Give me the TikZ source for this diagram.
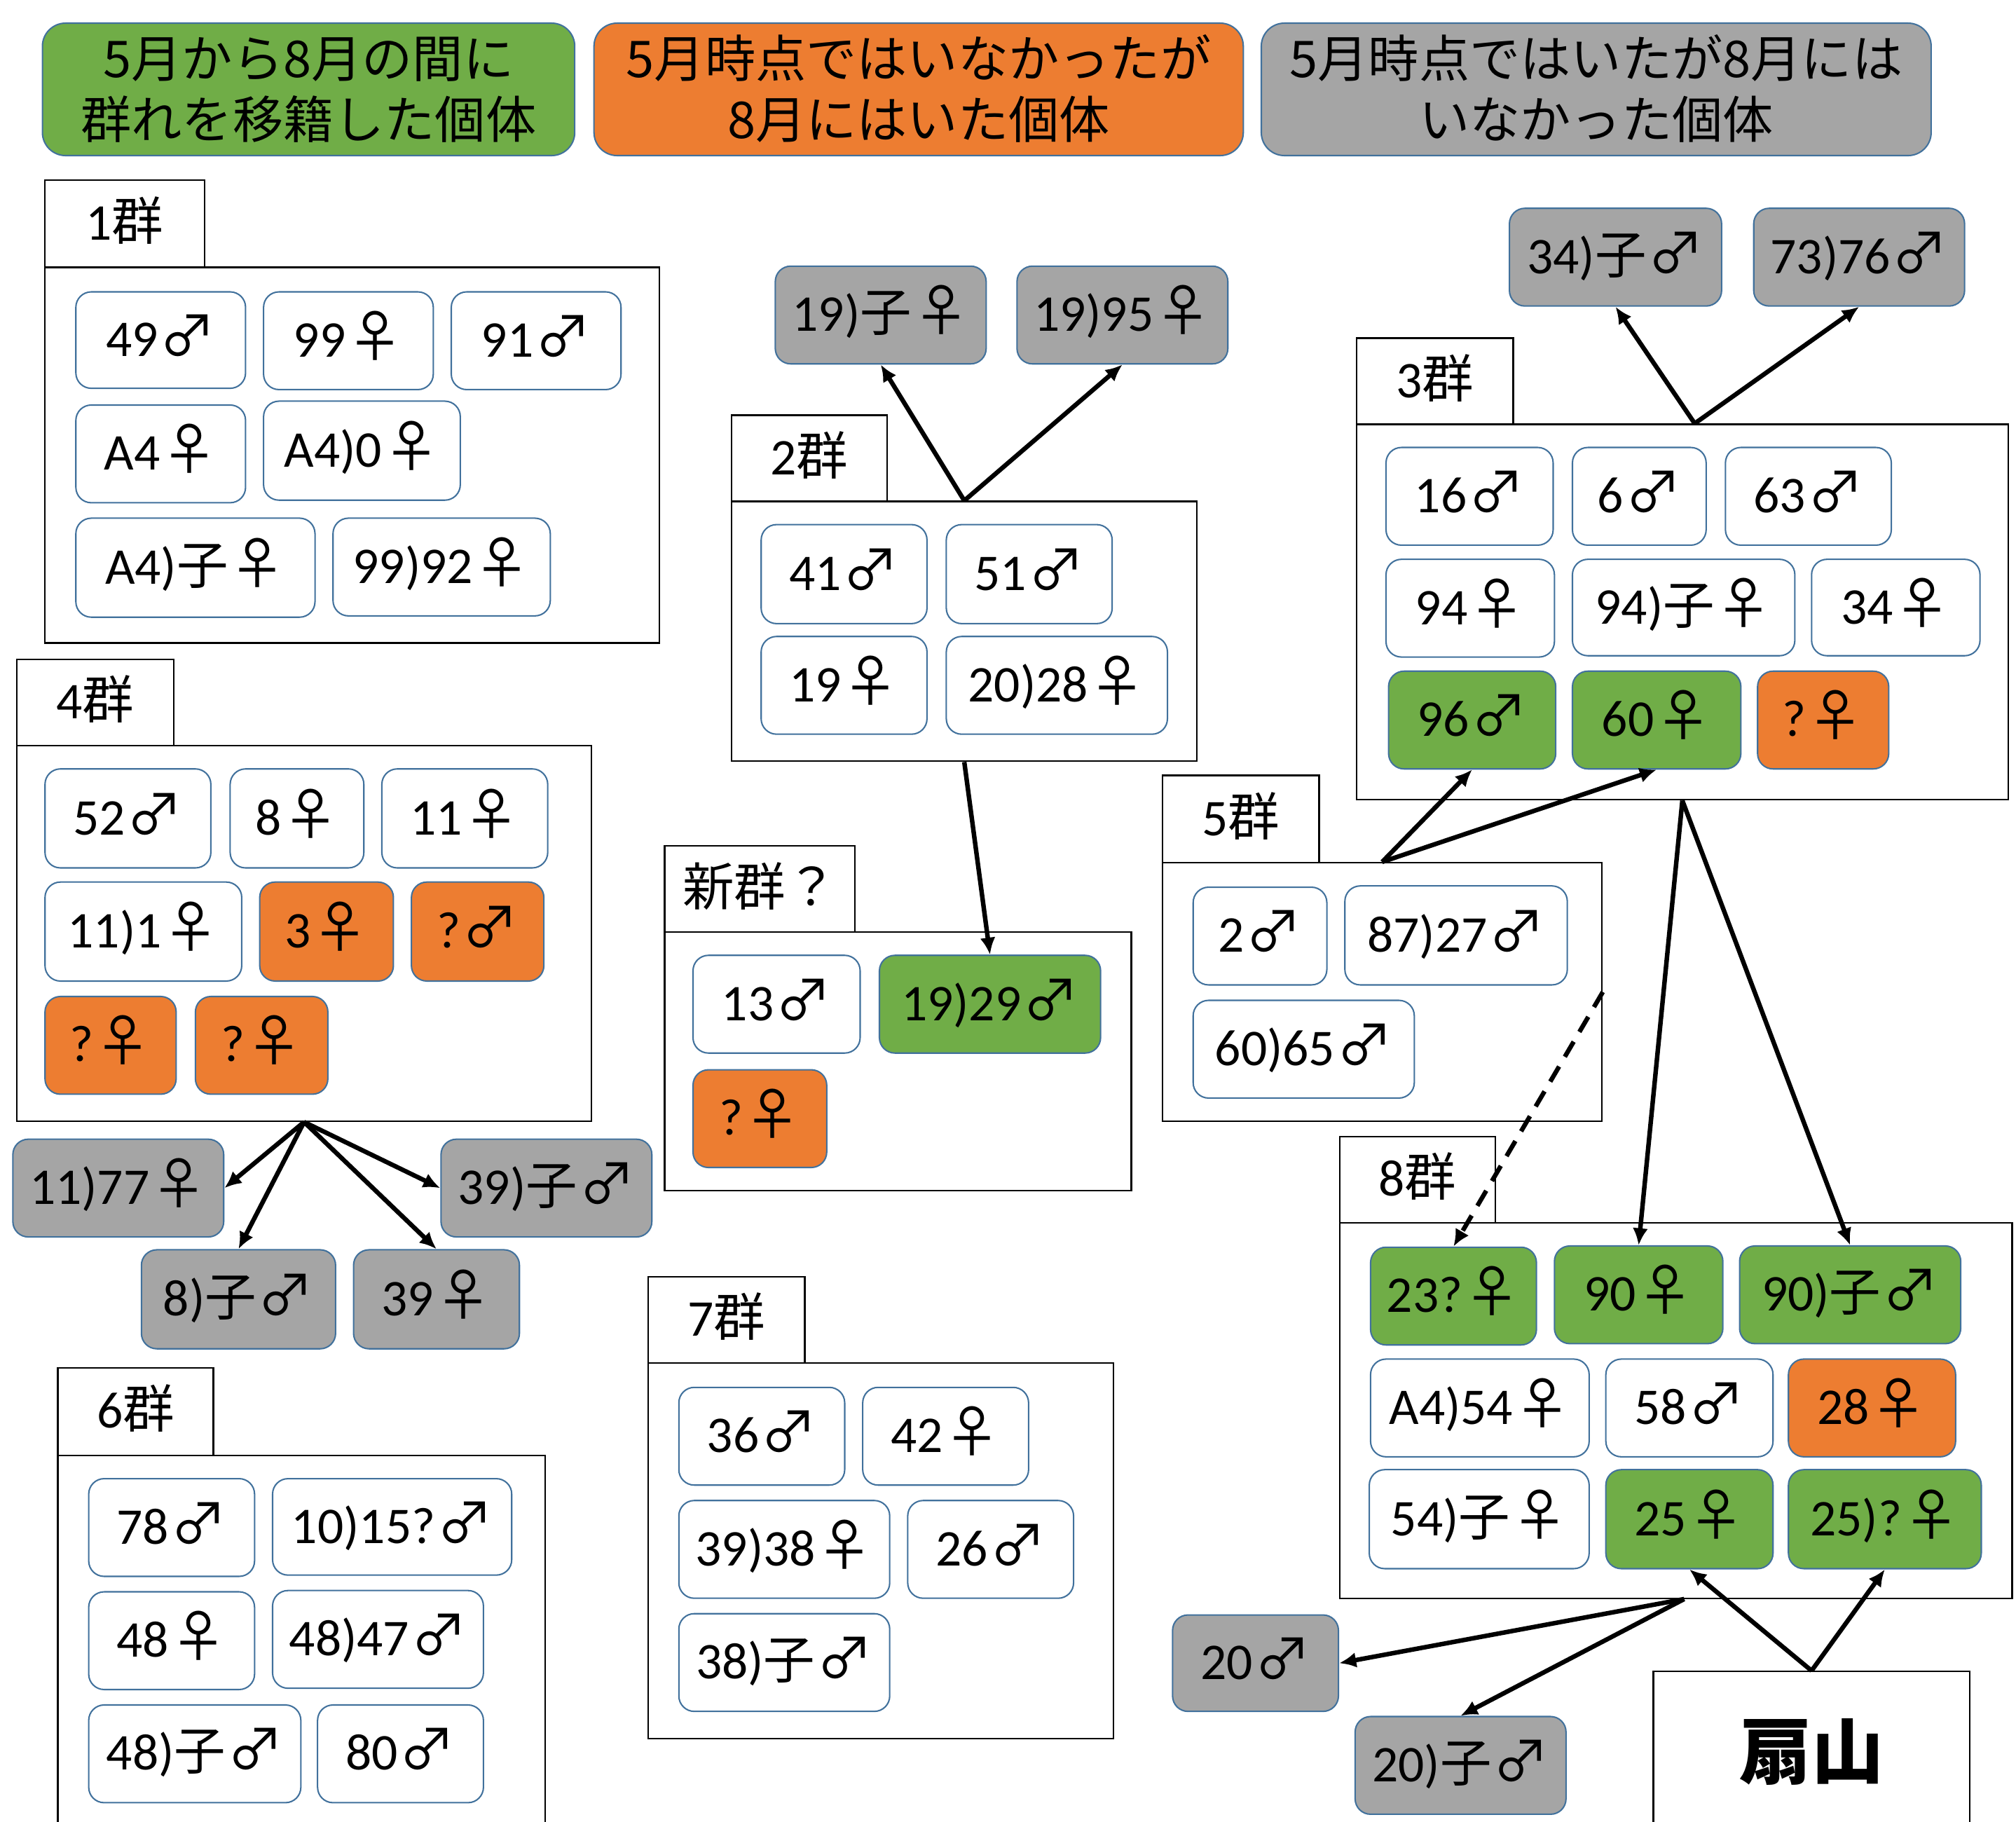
\documentclass[tikz,border=0pt]{standalone}
\usepackage{fontspec}
\setmainfont{Carlito}
\newfontfamily\jp{Noto Sans CJK JP}
\usetikzlibrary{arrows.meta}
\definecolor{cgreen}{HTML}{70AD47}
\definecolor{corange}{HTML}{ED7D31}
\definecolor{cgray}{HTML}{A5A5A5}
\definecolor{bblue}{HTML}{41719C}
\newcommand\Ms{{\kern0.8pt\jp\fontsize{31}{34}\selectfont ♂}}
\newcommand\Fs{{\kern0.8pt\jp\fontsize{31}{34}\selectfont ♀}}
\newcommand\Ko{{\jp 子}}
\newcommand\Gn{{\jp 群}}
\newcommand\ftx{\fontsize{28.5}{34}\selectfont}
\tikzset{
  ind/.style={draw=bblue, line width=0.8pt, rounded corners=3mm, inner sep=0pt, font=\ftx, text height=18pt, text depth=0pt},
  grp/.style={draw=black, line width=0.9pt, inner sep=0pt, font=\ftx, fill=white, text height=18pt, text depth=0pt},
  leg/.style={draw=bblue, line width=0.8pt, rounded corners=4.5mm, inner sep=0pt, font=\jp\fontsize{28}{34}\selectfont, align=center, text height=54.6pt, text depth=0pt},
  arr/.style={-{Latex[length=3.3mm,width=3mm]}, line width=2.5pt},
  box/.style n args={4}{minimum width={(#3-#1)*0.25mm}, minimum height={(#4-#2)*0.25mm}, at={({(#1+#3)/2},{(#2+#4)/2})}},
}
\newcommand\ib[7]{\node[ind, fill=#6, box={#2}{#3}{#4}{#5}] (#1) {#7};}
\newcommand\gb[6]{\node[grp, box={#2}{#3}{#4}{#5}] (#1) {#6};}
\begin{document}
\begin{tikzpicture}[x=0.25mm,y=-0.25mm]
\useasboundingbox (0,0) rectangle (1568,1417);
\clip (0,0) rectangle (1568,1417);
\fill[white] (0,0) rectangle (1568,1417);
% legend
\node[leg, fill=cgreen, box={33}{18}{447}{121}] (leg1) {5月から8月の間に\\群れを移籍した個体};
\node[leg, fill=corange, box={462}{18}{967}{121}] (leg2) {5月時点ではいなかったが\\8月にはいた個体};
\node[leg, fill=cgray, box={981}{18}{1502}{121}] (leg3) {5月時点ではいたが8月には\\いなかった個体};
% group frames
\gb{b1}{35}{208}{513}{500}{}
\gb{t1}{35}{140}{159}{208}{1\Gn}
\gb{b2}{569}{390}{931}{592}{}
\gb{t2}{569}{323}{690}{390}{2\Gn}
\gb{bN}{517}{725}{880}{926}{}
\gb{tN}{517}{658}{665}{725}{\jp 新群？}
\gb{b3}{1055}{330}{1562}{622}{}
\gb{t3}{1055}{263}{1177}{330}{3\Gn}
\gb{b5}{904}{671}{1246}{872}{}
\gb{t5}{904}{603}{1026}{671}{5\Gn}
\gb{b8}{1042}{951}{1565}{1243}{}
\gb{t8}{1042}{884}{1163}{951}{8\Gn}
\gb{b4}{13}{580}{460}{872}{}
\gb{t4}{13}{513}{135}{580}{4\Gn}
\gb{b6}{45}{1132}{424}{1440}{}
\gb{t6}{45}{1064}{166}{1132}{6\Gn}
\gb{b7}{504}{1060}{866}{1352}{}
\gb{t7}{504}{993}{626}{1060}{7\Gn}
\node[grp, box={1286}{1300}{1532}{1424}, font={\jp\bfseries\fontsize{40}{48}\selectfont}, text height=30pt, text depth=0pt] (ougi) {扇山};
% group 1
\ib{g1a}{59}{227}{191}{302}{white}{49\Ms}
\ib{g1b}{205}{227}{337}{303}{white}{99\Fs}
\ib{g1c}{351}{227}{483}{303}{white}{91\Ms}
\ib{g1d}{59}{315}{191}{391}{white}{A4\Fs}
\ib{g1e}{205}{312}{358}{389}{white}{A4)0\Fs}
\ib{g1f}{59}{403}{245}{480}{white}{A4)\Ko\Fs}
\ib{g1g}{259}{403}{428}{479}{white}{99)92\Fs}
% group 2
\ib{g2a}{592}{408}{721}{485}{white}{41\Ms}
\ib{g2b}{736}{408}{865}{485}{white}{51\Ms}
\ib{g2c}{592}{495}{721}{571}{white}{19\Fs}
\ib{g2d}{736}{495}{908}{571}{white}{20)28\Fs}
\ib{o19ko}{603}{207}{767}{283}{cgray}{19)\Ko\Fs}
\ib{o1995}{791}{207}{955}{283}{cgray}{19)95\Fs}
% new group
\ib{gNa}{539}{743}{669}{819}{white}{13\Ms}
\ib{gNb}{684}{743}{856}{819}{cgreen}{19)29\Ms}
\ib{gNc}{539}{832}{643}{908}{corange}{?\Fs}
% group 3
\ib{g3a}{1078}{348}{1208}{424}{white}{16\Ms}
\ib{g3b}{1223}{348}{1327}{424}{white}{6\Ms}
\ib{g3c}{1342}{348}{1471}{424}{white}{63\Ms}
\ib{g3d}{1078}{435}{1209}{511}{white}{94\Fs}
\ib{g3e}{1223}{435}{1396}{510}{white}{94)\Ko\Fs}
\ib{g3f}{1409}{435}{1540}{510}{white}{34\Fs}
\ib{g3g}{1080}{522}{1210}{598}{cgreen}{96\Ms}
\ib{g3h}{1223}{522}{1354}{598}{cgreen}{60\Fs}
\ib{g3i}{1367}{522}{1469}{598}{corange}{?\Fs}
\ib{o34ko}{1174}{162}{1339}{238}{cgray}{34)\Ko\Ms}
\ib{o7376}{1364}{162}{1528}{238}{cgray}{73)76\Ms}
% group 5
\ib{g5a}{928}{690}{1032}{766}{white}{2\Ms}
\ib{g5b}{1046}{689}{1219}{766}{white}{87)27\Ms}
\ib{g5c}{928}{778}{1100}{854}{white}{60)65\Ms}
% group 8
\ib{g8a}{1066}{970}{1195}{1046}{cgreen}{23?\Fs}
\ib{g8b}{1209}{969}{1340}{1045}{cgreen}{90\Fs}
\ib{g8c}{1353}{969}{1525}{1045}{cgreen}{90)\Ko\Ms}
\ib{g8d}{1066}{1057}{1236}{1133}{white}{A4)54\Fs}
\ib{g8e}{1249}{1057}{1379}{1133}{white}{58\Ms}
\ib{g8f}{1391}{1057}{1521}{1133}{corange}{28\Fs}
\ib{g8g}{1065}{1143}{1236}{1220}{white}{54)\Ko\Fs}
\ib{g8h}{1249}{1143}{1379}{1220}{cgreen}{25\Fs}
\ib{g8i}{1391}{1143}{1541}{1220}{cgreen}{25)?\Fs}
\ib{o20}{912}{1256}{1041}{1331}{cgray}{20\Ms}
\ib{o20ko}{1054}{1335}{1218}{1411}{cgray}{20)\Ko\Ms}
% group 4
\ib{g4a}{35}{598}{164}{675}{white}{52\Ms}
\ib{g4b}{179}{598}{283}{675}{white}{8\Fs}
\ib{g4c}{297}{598}{426}{675}{white}{11\Fs}
\ib{g4d}{35}{686}{188}{763}{white}{11)1\Fs}
\ib{g4e}{202}{686}{306}{763}{corange}{3\Fs}
\ib{g4f}{320}{686}{423}{763}{corange}{?\Ms}
\ib{g4g}{35}{775}{137}{851}{corange}{?\Fs}
\ib{g4h}{152}{775}{255}{851}{corange}{?\Fs}
\ib{o1177}{10}{886}{174}{962}{cgray}{11)77\Fs}
\ib{o39ko}{343}{886}{507}{962}{cgray}{39)\Ko\Ms}
\ib{o8ko}{110}{972}{261}{1049}{cgray}{8)\Ko\Ms}
\ib{o39}{275}{972}{404}{1049}{cgray}{39\Fs}
% group 6
\ib{g6a}{69}{1150}{198}{1226}{white}{78\Ms}
\ib{g6b}{212}{1150}{398}{1225}{white}{10)15?\Ms}
\ib{g6c}{69}{1238}{198}{1314}{white}{48\Fs}
\ib{g6d}{212}{1237}{376}{1313}{white}{48)47\Ms}
\ib{g6e}{69}{1326}{234}{1402}{white}{48)\Ko\Ms}
\ib{g6f}{247}{1326}{376}{1402}{white}{80\Ms}
% group 7
\ib{g7a}{528}{1079}{657}{1155}{white}{36\Ms}
\ib{g7b}{671}{1079}{800}{1155}{white}{42\Fs}
\ib{g7c}{528}{1167}{692}{1243}{white}{39)38\Fs}
\ib{g7d}{706}{1167}{835}{1243}{white}{26\Ms}
\ib{g7e}{528}{1255}{692}{1331}{white}{38)\Ko\Ms}
% connectors
\draw[arr] (b2.north) -- (o19ko.south);
\draw[arr] (b2.north) -- (o1995.south);
\draw[arr] (b2.south) -- (gNb.north);
\draw[arr] ([xshift=2.4mm]b3.north) -- (o34ko.south);
\draw[arr] ([xshift=2.4mm]b3.north) -- (o7376.south);
\draw[arr] (b3.south) -- (g8b.north);
\draw[arr] (b3.south) -- (g8c.north);
\draw[arr] (b5.north) -- (g3g.south);
\draw[arr] (b5.north) -- (g3h.south);
\draw[arr, dash pattern=on 3.4mm off 2.2mm] (b5.east) -- (g8a.north);
\draw[arr] ([xshift=1.6mm]b8.south) -- (o20.east);
\draw[arr] ([xshift=1.6mm]b8.south) -- (o20ko.north);
\draw[arr] (ougi.north) -- (g8h.south);
\draw[arr] (ougi.north) -- (g8i.south);
\draw[arr] (b4.south) -- (o1177.east);
\draw[arr] (b4.south) -- (o8ko.north);
\draw[arr] (b4.south) -- (o39.north);
\draw[arr] (b4.south) -- (o39ko.west);
\end{tikzpicture}
\end{document}
